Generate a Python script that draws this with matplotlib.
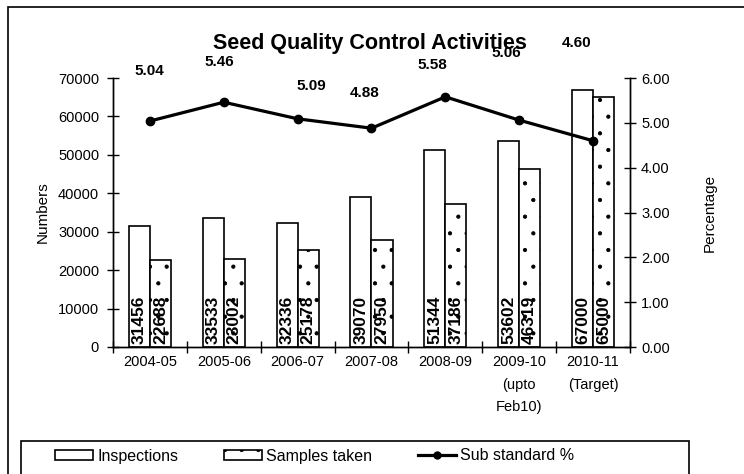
import matplotlib
matplotlib.use("Agg")
import matplotlib.pyplot as plt
import numpy as np
from matplotlib.patches import Rectangle, Patch
from matplotlib.lines import Line2D

plt.rcParams['font.family'] = ['Liberation Sans', 'DejaVu Sans']
plt.rcParams['hatch.linewidth'] = 0.6

categories = ["2004-05", "2005-06", "2006-07", "2007-08", "2008-09",
              "2009-10\n(upto\nFeb10)", "2010-11\n(Target)"]
inspections = [31456, 33533, 32336, 39070, 51344, 53602, 67000]
samples = [22688, 23002, 25178, 27950, 37186, 46319, 65000]
substandard = [5.04, 5.46, 5.09, 4.88, 5.58, 5.06, 4.60]
left_ticks = [0, 10000, 20000, 30000, 40000, 50000, 60000, 70000]
right_ticks = [0, 1, 2, 3, 4, 5, 6]

# label offsets (pixels) of percentage labels relative to points
label_offsets = [(-1, 50), (-4, 40), (14, 33), (-7, 35), (-13, 32), (-13, 67), (-17, 98)]

W, H = 744, 474
fig = plt.figure(figsize=(W / 100, H / 100), dpi=100)
ax = fig.add_axes([113 / W, 1 - 347 / H, (630 - 113) / W, (347 - 78) / H])
ax2 = ax.twinx()

x = np.arange(len(categories)) + 0.5
bw = 0.285
ax.bar(x - bw / 2, inspections, width=bw, facecolor='white', edgecolor='black', linewidth=1.2)
ax.bar(x + bw / 2, samples, width=bw, facecolor='white', edgecolor='black', linewidth=1.2,
       hatch='.')

for xi, v in zip(x - bw / 2, inspections):
    ax.text(xi, 800, f"{v}", rotation=90, ha='center', va='bottom', fontsize=12.5,
            fontweight='bold')
for xi, v in zip(x + bw / 2, samples):
    ax.text(xi, 800, f"{v}", rotation=90, ha='center', va='bottom', fontsize=12.5,
            fontweight='bold')

ax.set_xlim(0, len(categories))
ax.set_ylim(0, 70000)
ax.set_yticks(left_ticks)
ax.set_xticks(np.arange(len(categories) + 1))
ax.set_xticklabels([])
ax.set_xticks(x, minor=True)
ax.set_xticklabels(categories, minor=True, fontsize=10.5, linespacing=1.75)
ax.tick_params(axis='x', which='minor', length=0, pad=6)
ax.tick_params(axis='x', which='major', direction='inout', length=8, width=1)
ax.tick_params(axis='y', direction='inout', length=8, width=1, labelsize=10.5, pad=6)
ax.set_ylabel("Numbers", fontsize=11, labelpad=6)

ax2.plot(x, substandard, color='black', linewidth=2.3, marker='o', markersize=6)
ax2.set_ylim(0, 6)
ax2.set_yticks(right_ticks)
ax2.set_yticklabels([f"{t:.2f}" for t in right_ticks])
ax2.tick_params(axis='y', direction='inout', length=8, width=1, labelsize=10.5, pad=4)
ax2.set_ylabel("Percentage", fontsize=11, labelpad=24)

for xi, v, (dx, dy) in zip(x, substandard, label_offsets):
    ax2.annotate(f"{v:.2f}", (xi, v), xytext=(dx, dy), textcoords='offset pixels',
                 ha='center', va='center', fontsize=11, fontweight='bold',
                 annotation_clip=False)

for a in (ax, ax2):
    a.spines['top'].set_visible(False)
    for s in ('left', 'right', 'bottom'):
        a.spines[s].set_linewidth(1)

fig.text(370 / W, 1 - 43 / H, "Seed Quality Control Activities", ha='center', va='center',
         fontsize=15.5, fontweight='bold')

# outer frame and legend box
fig.patches.append(Rectangle((8 / W, -0.1), 1.1, 1 - 7 / H + 0.1, transform=fig.transFigure,
                             facecolor='none', edgecolor='black', linewidth=1.2, zorder=0))
fig.patches.append(Rectangle((21 / W, -0.1), (689 - 21) / W, 1 - 441 / H + 0.1,
                             transform=fig.transFigure, facecolor='white', edgecolor='black',
                             linewidth=1.2, zorder=0))

handles = [Patch(facecolor='white', edgecolor='black', linewidth=1.2),
           Patch(facecolor='white', edgecolor='black', linewidth=1.2, hatch='.'),
           Line2D([], [], color='black', linewidth=2.3, marker='o', markersize=5)]
fig.legend(handles, ["Inspections", "Samples taken", "Sub standard %"], ncol=3,
           loc='center left', bbox_to_anchor=(55 / W, 1 - 456 / H), frameon=False,
           fontsize=11.5, handlelength=2.4, handleheight=0.6, handletextpad=0.25,
           columnspacing=2.85, borderpad=0, borderaxespad=0)

fig.savefig("out.png", dpi=100)
